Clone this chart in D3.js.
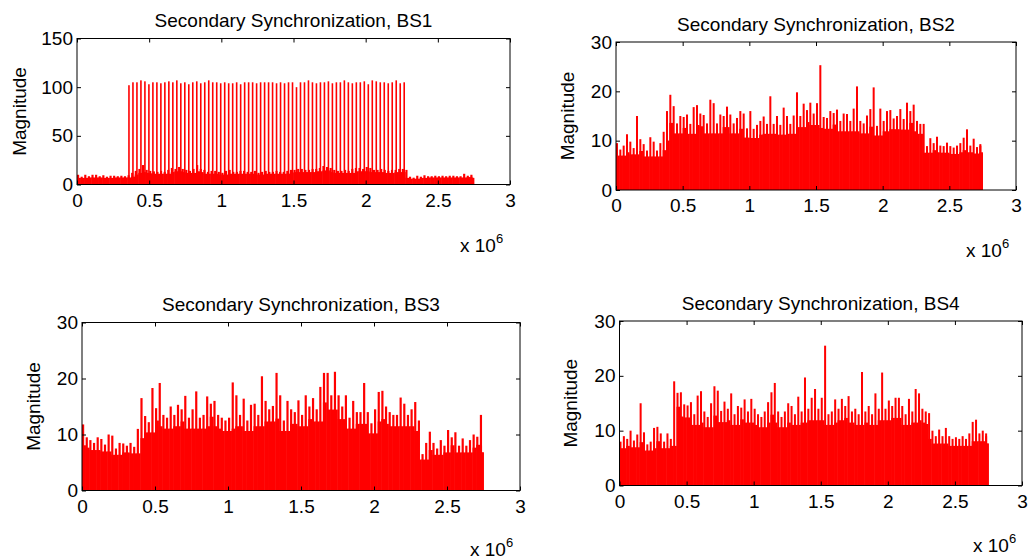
<!DOCTYPE html>
<html><head><meta charset="utf-8">
<script src="https://cdn.jsdelivr.net/npm/d3@7"></script>
<style>
body{margin:0;background:#fff;}
text{font-family:"Liberation Sans",Arial,sans-serif;fill:#000;}
</style></head>
<body><svg id="c" width="1029" height="560"></svg>
<script>
// ---- data (x in samples, x-range 0 .. 2.75e6) ----
const titles = ["Secondary Synchronization, BS1","Secondary Synchronization, BS2","Secondary Synchronization, BS3","Secondary Synchronization, BS4"];
const xTicks = [0, 0.5e6, 1e6, 1.5e6, 2e6, 2.5e6, 3e6];
const xTickLabels = ["0","0.5","1","1.5","2","2.5","3"];
const yTicksBS1 = [0, 50, 100, 150];
const yTicksOther = [0, 10, 20, 30];
const xDataEnd = 2.75e6;

// BS1: background level (every 0.025e6) and the tall synchronization peaks (0.36e6 .. 2.267e6)
const bs1Base = [10,8,10,8.5,10,10,8.5,9.5,8,9,9,8.5,9,8.5,9.5,
 12,14,16,20,15,14,13.5,13,14,13,15,17,16,18,16,15,14,16,20,16,15,13,14,14,13,12,14,15,13,13,14,14,13,13,14,12,13,14,13,13,14,13,13,14,15,15,16,16,15,15,16,16,17,19,18,17,15,14,14,15,14,16,17,17,16,18,17,15,15,16,15,14,15,15,16,16,15,
 8,7,9,8,9.5,8.5,8.5,9,8.5,9,8.5,9,9,8.5,8.5,11,9,10,8];
const bs1PeakStart = 0.36e6, bs1PeakEnd = 2.267e6;
const bs1Peaks = [102,105,105,107,106,103,105,105,104,105,106,105,107,104,105,103,105,106,104,105,107,105,105,104,105,104,104,105,103,105,105,105,104,105,105,105,105,104,105,104,105,105,100,105,105,107,105,104,105,105,106,104,105,105,107,105,104,105,105,106,103,107,106,105,105,104,105,107,104,105];

const bs2 = [9.5,8.2,9.0,11.3,9.8,8.5,15.0,10.3,9.3,8.0,10.7,9.8,8.0,9.5,11.8,
 16.0,19.3,17.0,13.5,15.0,14.8,15.3,13.4,16.8,17.2,15.5,15.2,13.5,18.3,17.6,13.5,15.3,15.0,16.9,15.3,13.5,14.6,16.0,15.5,12.5,16.0,12.4,13.2,14.0,14.9,13.4,19.0,13.4,15.0,13.2,16.7,15.0,13.4,15.1,19.8,15.0,17.5,16.2,17.7,15.5,17.6,25.3,14.8,14.6,16.0,15.6,16.3,14.0,15.5,15.4,14.0,16.5,21.0,14.0,13.5,15.1,16.4,20.8,13.0,16.5,14.0,16.0,16.2,14.5,15.0,16.4,14.4,17.7,16.0,17.3,14.0,13.4,13.4,
 8.9,10.5,9.5,10.8,9.0,8.9,9.6,8.9,8.6,9.0,9.5,10.6,12.3,9.0,10.4,8.7,9.0,9.3];

const bs3 = [11.8,9.5,9.0,8.5,9.5,9.2,8.2,10.0,9.8,7.5,8.5,8.4,8.0,8.5,7.8,
 11.0,16.5,13.3,12.2,18.3,14.7,19.2,13.5,13.0,15.0,13.5,15.3,14.5,16.9,13.0,14.5,17.7,13.0,13.5,16.8,15.5,16.0,13.5,13.0,12.5,13.0,19.3,17.0,13.5,16.4,12.5,15.3,15.5,13.5,20.4,16.0,14.5,15.1,21.0,17.0,12.5,16.0,14.5,14.0,16.1,13.5,17.0,15.0,16.5,14.5,18.5,21.0,21.0,17.0,21.2,17.0,15.0,17.0,13.0,16.0,14.0,14.0,19.2,14.0,12.0,14.5,17.6,17.8,15.0,14.0,13.5,13.5,16.6,15.5,13.5,14.5,15.8,12.5,
 6.5,8.5,10.5,8.5,7.5,9.0,8.0,10.8,9.5,10.4,8.0,9.3,8.0,9.0,10.0,9.6,13.5,8.0];

const bs4 = [8.0,9.0,8.5,10.0,8.2,9.3,15.0,9.7,7.5,8.0,10.5,10.7,9.5,8.0,9.5,
 8.5,19.0,16.9,17.0,14.8,14.6,15.2,13.0,16.4,17.2,13.5,12.5,15.0,18.1,17.3,13.6,15.3,14.0,16.8,13.0,14.5,14.2,15.7,13.5,15.8,14.0,13.0,12.5,13.5,15.2,17.0,18.7,13.5,12.5,13.5,15.0,14.5,13.0,16.2,13.5,19.7,14.0,16.0,17.6,14.0,16.0,25.5,13.0,13.5,15.7,14.0,15.8,14.5,16.3,13.5,14.0,13.0,20.7,13.5,14.5,13.0,16.8,14.0,20.6,14.0,15.5,14.5,16.0,16.0,14.5,13.0,15.8,13.5,17.6,16.8,14.0,13.5,13.2,
 10.0,9.0,10.2,9.0,10.5,9.0,8.5,8.8,8.5,9.0,8.5,9.5,11.6,12.0,9.5,10.0,9.5,9.0];

// ---- layout ----
const panels = [
  {title:titles[0], l:77, t:38.5, r:510, b:184.5, yMax:150, yTicks:yTicksBS1, series:bs1Base, peaks:bs1Peaks, lab:58, x10:[460,252]},
  {title:titles[1], l:616, t:42, r:1016, b:190, yMax:30, yTicks:yTicksOther, series:bs2, lab:49, x10:[966,257]},
  {title:titles[2], l:82, t:322.5, r:520, b:490.5, yMax:30, yTicks:yTicksOther, series:bs3, lab:49, x10:[470,556]},
  {title:titles[3], l:619.5, t:321, r:1022, b:485.5, yMax:30, yTicks:yTicksOther, series:bs4, lab:49, x10:[973,552]}
];

const svg = d3.select("#c");
const RED = "#ff0000";
const FS = 19;

panels.forEach(p => {
  const x = d3.scaleLinear().domain([0, 3e6]).range([p.l, p.r]);
  const y = d3.scaleLinear().domain([0, p.yMax]).range([p.b, p.t]);
  const g = svg.append("g");

  const n = p.series.length;
  const step = xDataEnd / (n - 1);
  const pxStep = x(step) - x(0);
  const xi = i => Math.min(x(i * step), x(xDataEnd) - pxStep);
  // solid lower mass (up to the lower of neighbouring levels)
  const lowOf = i => Math.min(p.series[Math.max(0, i - 1)], p.series[i], p.series[Math.min(n - 1, i + 1)]) * 0.85;
  g.append("g").selectAll("rect").data(p.series).join("rect")
    .attr("x", (d, i) => xi(i))
    .attr("width", pxStep + 0.3)
    .attr("y", (d, i) => y(lowOf(i)))
    .attr("height", (d, i) => y(0) - y(lowOf(i)))
    .attr("fill", RED);
  // spikes
  const w = pxStep * 0.6;
  g.append("g").selectAll("rect").data(p.series).join("rect")
    .attr("x", (d, i) => xi(i))
    .attr("width", w)
    .attr("y", d => y(d))
    .attr("height", d => y(0) - y(d))
    .attr("fill", RED);

  if (p.peaks) {
    const m = p.peaks.length;
    const ps = (bs1PeakEnd - bs1PeakStart) / (m - 1);
    g.append("g").selectAll("rect").data(p.peaks).join("rect")
      .attr("x", (d, i) => x(bs1PeakStart + i * ps) - 0.8)
      .attr("width", 1.6)
      .attr("y", d => y(d))
      .attr("height", d => y(0) - y(d))
      .attr("fill", RED);
  }

  // box
  g.append("rect").attr("x", p.l).attr("y", p.t).attr("width", p.r - p.l).attr("height", p.b - p.t)
    .attr("fill", "none").attr("stroke", "#000").attr("stroke-width", 1);

  // axes (ticks inward)
  const ax = d3.axisBottom(x).tickValues(xTicks).tickFormat((d, i) => xTickLabels[i]).tickSize(-4).tickPadding(9);
  const gx = g.append("g").attr("transform", `translate(0,${p.b})`).call(ax);
  const axT = d3.axisTop(x).tickValues(xTicks).tickFormat("").tickSize(-4);
  const gxt = g.append("g").attr("transform", `translate(0,${p.t})`).call(axT);
  const ay = d3.axisLeft(y).tickValues(p.yTicks).tickSize(-4).tickPadding(4);
  const gy = g.append("g").attr("transform", `translate(${p.l},0)`).call(ay);
  const ayR = d3.axisRight(y).tickValues(p.yTicks).tickFormat("").tickSize(-4);
  const gyr = g.append("g").attr("transform", `translate(${p.r},0)`).call(ayR);
  [gx, gxt, gy, gyr].forEach(a => {
    a.select(".domain").remove();
    a.selectAll("line").attr("stroke", "#000");
    a.selectAll("text").style("font-size", FS + "px").style("font-family", '"Liberation Sans",Arial,sans-serif');
  });
  gx.selectAll("text").attr("dy", "0.71em");

  // title
  g.append("text").attr("x", (p.l + p.r) / 2).attr("y", p.t - 11.5).attr("text-anchor", "middle")
    .style("font-size", FS + "px").text(p.title);

  // y label
  g.append("text").attr("transform", `translate(${p.l - p.lab},${(p.t + p.b) / 2}) rotate(-90)`)
    .attr("text-anchor", "middle").attr("dy", "0.35em").style("font-size", FS + "px").text("Magnitude");

  // x multiplier
  const t = g.append("text").attr("x", p.x10[0]).attr("y", p.x10[1]).style("font-size", FS + "px");
  t.append("tspan").text("x 10");
  t.append("tspan").attr("dy", -9).style("font-size", "13px").text("6");
});
</script></body></html>
